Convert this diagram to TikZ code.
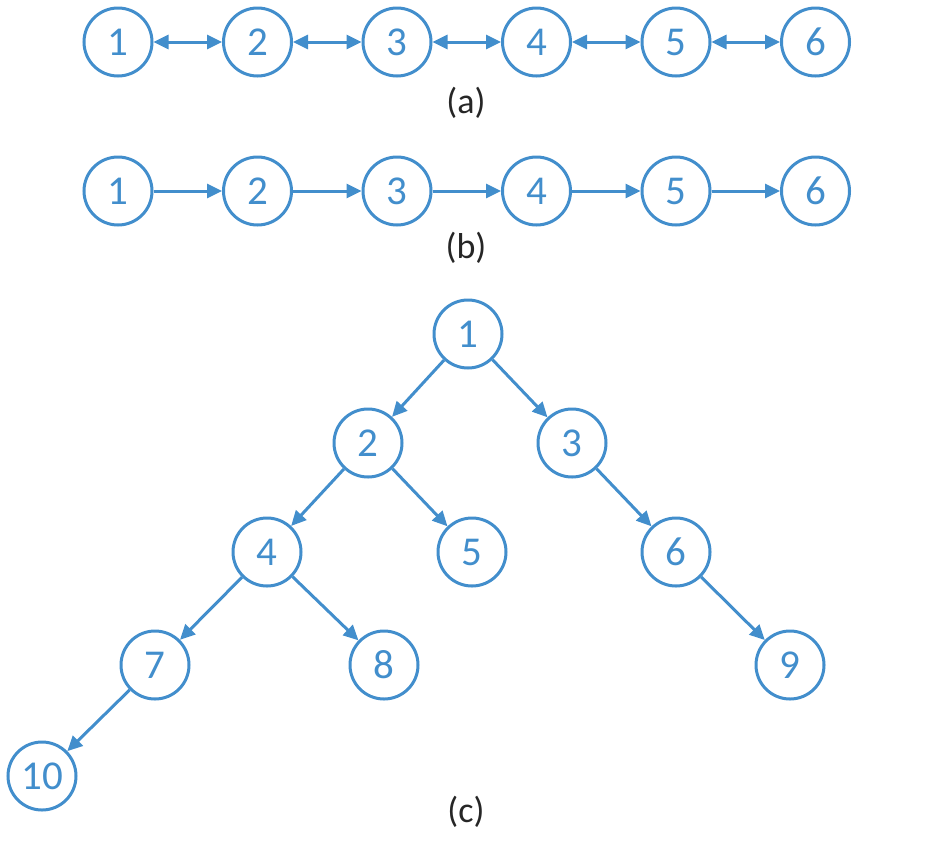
\documentclass[tikz,border=0pt]{standalone}
\usepackage{fontspec}
\setmainfont{Carlito}
\usetikzlibrary{arrows.meta, positioning}
\definecolor{nodeblue}{RGB}{66,142,204}

\begin{document}
\begin{tikzpicture}[x=1pt, y=-1pt,
  vert/.style={circle, draw=nodeblue, line width=3pt, text=nodeblue, minimum size=68pt, inner sep=0pt, font=\fontsize{41}{44}\selectfont},
  edge/.style={nodeblue, line width=3pt, -{Triangle[length=15pt, width=14pt]}},
  dedge/.style={edge, {Triangle[length=15pt, width=14pt]}-{Triangle[length=15pt, width=14pt]}},
  caption/.style={font=\fontsize{36}{40}\selectfont, text=black!85}]
  \useasboundingbox (0,0) rectangle (928,844);
  % (a) two-way list
  \foreach \i in {1,...,6} {
    \node[vert] (a\i) at ({118+139.5*(\i-1)}, 42) {\i};
  }
  \foreach \i [evaluate=\i as \j using int(\i+1)] in {1,...,5} {
    \draw[dedge] (a\i) -- (a\j);
  }
  \node[caption] (capa) at (466, 103) {(a)};
  % (b) one-way list
  \foreach \i in {1,...,6} {
    \node[vert] (b\i) at ({118+139.5*(\i-1)}, 191) {\i};
  }
  \foreach \i [evaluate=\i as \j using int(\i+1)] in {1,...,5} {
    \draw[edge] (b\i) -- (b\j);
  }
  \node[caption] (capb) at (466, 248) {(b)};
  % (c) tree
  \node[vert] (t1) at (468, 334) {1};
  \node[vert] (t2) at (368, 443) {2};
  \node[vert] (t3) at (572, 443) {3};
  \node[vert] (t4) at (267, 552) {4};
  \node[vert] (t5) at (472, 552) {5};
  \node[vert] (t6) at (676, 552) {6};
  \node[vert] (t7) at (155, 665) {7};
  \node[vert] (t8) at (384, 665) {8};
  \node[vert] (t9) at (790, 665) {9};
  \node[vert] (t10) at (42, 776) {10};
  \foreach \p/\c in {1/2, 1/3, 2/4, 2/5, 3/6, 4/7, 4/8, 6/9, 7/10} {
    \draw[edge] (t\p) -- (t\c);
  }
  \node[caption] (capc) at (466, 812) {(c)};
\end{tikzpicture}
\end{document}
